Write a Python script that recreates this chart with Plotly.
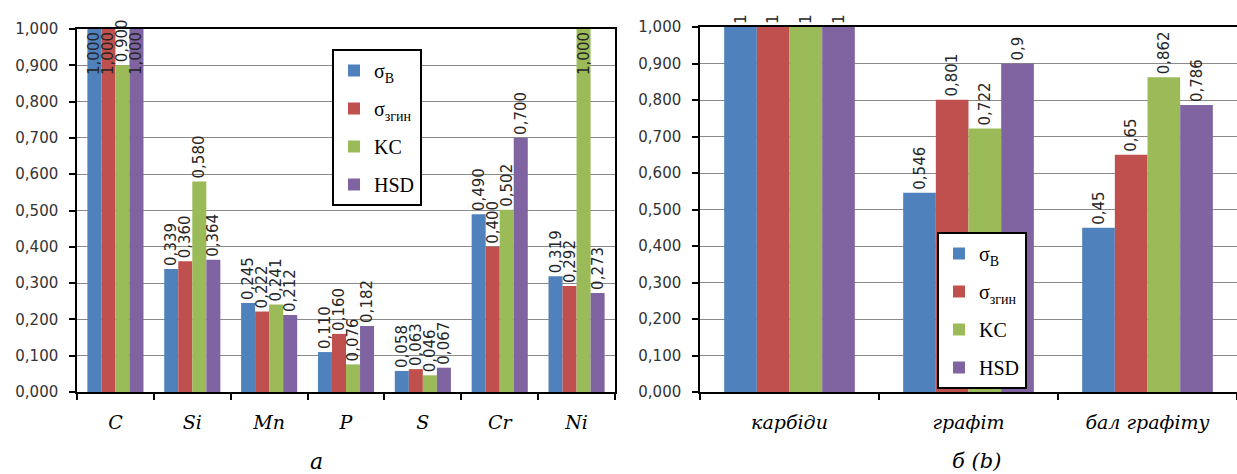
import plotly.graph_objects as go

# ---- data: chart (a) ----
elements = ["C", "Si", "Mn", "P", "S", "Cr", "Ni"]
a_sigma_b = [1.000, 0.339, 0.245, 0.110, 0.058, 0.490, 0.319]
a_sigma_zgyn = [1.000, 0.360, 0.222, 0.160, 0.063, 0.400, 0.292]
a_kc = [0.900, 0.580, 0.241, 0.076, 0.046, 0.502, 1.000]
a_hsd = [1.000, 0.364, 0.212, 0.182, 0.067, 0.700, 0.273]

# ---- data: chart (b) ----
structure = ["карбіди", "графіт", "бал графіту"]
b_sigma_b = [1, 0.546, 0.45]
b_sigma_zgyn = [1, 0.801, 0.65]
b_kc = [1, 0.722, 0.862]
b_hsd = [1, 0.9, 0.786]

series_names = ["σ<sub>В</sub>", "σ<sub>згин</sub>", "KC", "HSD"]
colors = ["#4F81BD", "#C0504D", "#9BBB59", "#8064A2"]
y_ticks = [0, 0.1, 0.2, 0.3, 0.4, 0.5, 0.6, 0.7, 0.8, 0.9, 1.0]

W, H = 1237, 474
SANS = "DejaVu Sans"
SERIF_IT = "DejaVu Serif, serif"
SERIF = "Liberation Serif, serif"
LABEL_COLOR = "#262626"

fig = go.Figure()

a_series = [a_sigma_b, a_sigma_zgyn, a_kc, a_hsd]
b_series = [b_sigma_b, b_sigma_zgyn, b_kc, b_hsd]

for i, vals in enumerate(a_series):
    txt = [f"{v:.3f}".replace(".", ",") for v in vals]
    pos = ["inside" if v >= 1.0 else "outside" for v in vals]
    fig.add_trace(go.Bar(
        x=elements, y=vals, name=series_names[i], marker_color=colors[i],
        marker_line_width=0, text=txt, textposition=pos, textangle=-90,
        insidetextanchor="end", constraintext="none", cliponaxis=False,
        textfont=dict(family=SANS, size=15, color=LABEL_COLOR),
        xaxis="x", yaxis="y", legend="legend", legendgroup=f"a{i}",
        hoverinfo="skip",
    ))

for i, vals in enumerate(b_series):
    txt = [f"{v:g}".replace(".", ",") for v in vals]
    fig.add_trace(go.Bar(
        x=structure, y=vals, name=series_names[i], marker_color=colors[i],
        marker_line_width=0, text=txt, textposition="outside", textangle=-90,
        constraintext="none", cliponaxis=False,
        textfont=dict(family=SANS, size=15, color=LABEL_COLOR),
        xaxis="x2", yaxis="y2", legend="legend2", legendgroup=f"b{i}",
        hoverinfo="skip",
    ))

def yaxis_style(domain_top, anchor):
    return dict(
        domain=[1 - 392 / H, 1 - domain_top / H], anchor=anchor,
        range=[0, 1.0], tickvals=y_ticks, tickformat=".3f",
        showgrid=True, gridcolor="#8a8a8a", gridwidth=1,
        showline=True, linecolor="black", linewidth=1.5, mirror=True,
        ticks="outside", ticklen=6, tickcolor="black", tickwidth=1.5,
        ticklabelstandoff=8, automargin=False,
        tickfont=dict(family=SANS, size=15, color="#333333"),
        zeroline=False,
    )

def xaxis_style(d0, d1, anchor):
    return dict(
        domain=[d0 / W, d1 / W], anchor=anchor,
        showline=True, linecolor="black", linewidth=1.5, mirror=True,
        ticks="outside", tickson="boundaries", ticklen=6,
        tickcolor="black", tickwidth=1.5, ticklabelstandoff=12,
        automargin=False,
        tickfont=dict(family=SERIF_IT, size=19, color="black", style="italic"),
        showgrid=False,
    )

legend_common = dict(
    bgcolor="white", bordercolor="black", borderwidth=2,
    font=dict(family=SERIF, size=20, color="black"),
    xanchor="left", yanchor="top", tracegroupgap=9,
    traceorder="grouped",
)

fig.update_layout(
    width=W, height=H,
    margin=dict(l=0, r=0, t=0, b=0, autoexpand=False),
    paper_bgcolor="white", plot_bgcolor="white",
    separators=", ",
    barmode="group", bargap=0.27, bargroupgap=0,
    xaxis=xaxis_style(77, 615, "y"),
    yaxis=yaxis_style(29, "x"),
    xaxis2=xaxis_style(700, 1237, "y2"),
    yaxis2=yaxis_style(27, "x2"),
    legend=dict(x=332 / W, y=1 - 49 / H, **legend_common),
    legend2=dict(x=937 / W, y=1 - 232 / H, **legend_common),
    annotations=[
        dict(text="а", x=316 / W, y=1 - 461 / H, xref="paper", yref="paper",
             xanchor="center", yanchor="middle", showarrow=False, borderpad=0,
             font=dict(family=SERIF_IT, size=22, style="italic", color="black")),
        dict(text="б (b)", x=976 / W, y=1 - 461 / H, xref="paper", yref="paper",
             xanchor="center", yanchor="middle", showarrow=False, borderpad=0,
             font=dict(family=SERIF_IT, size=21, style="italic", color="black")),
    ],
)

fig.write_html(
    "out.html",
    config={"displayModeBar": False},
    post_script="document.body.style.margin='0';document.body.style.padding='0';",
)
